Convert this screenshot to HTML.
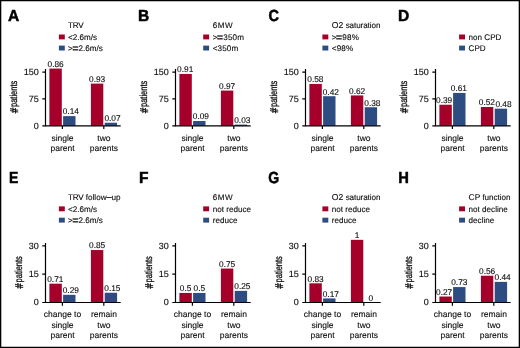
<!DOCTYPE html>
<html lang="en">
<head>
<meta charset="utf-8">
<title>Figure</title>
<style>
html,body{margin:0;padding:0;background:#fff;}
body{width:520px;height:348px;overflow:hidden;position:relative;}
svg{display:block;position:absolute;left:0;top:0;}
text{font-family:"Liberation Sans",Arial,Helvetica,sans-serif;fill:#0d0d0d;stroke:#0d0d0d;stroke-width:0.12px;text-rendering:geometricPrecision;}
.pl{font-size:16.0px;font-weight:bold;fill:#000;stroke:#000;stroke-width:0.5px;}
.lg{font-size:8.1px;}
.vl{font-size:8.3px;text-anchor:middle;}
.tk{font-size:9.0px;text-anchor:end;}
.xl{font-size:8.5px;text-anchor:middle;}
.yl{font-size:10.2px;text-anchor:start;stroke-width:0.3px;}
.hs{font-family:"DejaVu Sans","Liberation Sans",sans-serif;font-size:10.8px;stroke-width:0.35px;}
.ax{fill:none;stroke:#000;stroke-width:1.2;}
</style>
</head>
<body>
<svg width="520" height="348" viewBox="0 0 520 348">
<rect x="0" y="0" width="520" height="348" fill="#fff"/>
<path d="M0 0H520V348H0Z" fill="none" stroke="#000" stroke-width="2.6"/>
<g transform="translate(0 0)">
<text class="pl" transform="translate(8.1 20.5) scale(0.97 1)">A</text>
<text class="lg" x="68.1" y="28"><tspan letter-spacing="-0.2">TRV</tspan></text>
<rect x="58.9" y="34.5" width="5.9" height="4.9" fill="#A50029"/>
<text class="lg" x="68.1" y="39.7">&lt;2.6m/s</text>
<rect x="58.9" y="45.6" width="5.9" height="4.9" fill="#2C4C82"/>
<text class="lg" x="68.1" y="50.8">&gt;<tspan font-size="11" dx="-0.7" dy="1.05">=</tspan><tspan dx="0.05" dy="-1.05">2.6m/s</tspan></text>
<rect x="49.4" y="68.58" width="12.4" height="57.22" fill="#A50029"/>
<text class="vl" x="55.6" y="66.88">0.86</text>
<rect x="63.1" y="116.12" width="12.4" height="9.68" fill="#2C4C82"/>
<text class="vl" x="70.8" y="114.42">0.14</text>
<rect x="90.9" y="83.61" width="12.4" height="42.19" fill="#A50029"/>
<text class="vl" x="97.1" y="81.91">0.93</text>
<rect x="104.7" y="122.71" width="12.4" height="3.09" fill="#2C4C82"/>
<text class="vl" x="112.5" y="121.01">0.07</text>
<path class="ax" d="M45.5 69.1V125.8H120.7"/>
<text class="tk" x="38.7" y="128.5">0</text>
<text class="tk" x="38.7" y="101.65">75</text>
<text class="tk" x="38.7" y="74.8">150</text>
<path class="ax" d="M42.3 125.8H45.5M42.3 98.95H45.5M42.3 72.1H45.5M62.4 125.8V129M103.8 125.8V129"/>
<text class="yl" transform="translate(17 113.8) rotate(-90) scale(0.738 1)"><tspan class="hs" dy="1">#</tspan><tspan dx="0.1" dy="-1">patients</tspan></text>
<text class="xl" x="62.5" y="140.6">single</text>
<text class="xl" x="62.5" y="150.9">parent</text>
<text class="xl" x="103.9" y="140.6">two</text>
<text class="xl" x="103.9" y="150.9">parents</text>
</g>
<g transform="translate(130 0)">
<text class="pl" transform="translate(8.1 20.5) scale(0.97 1)">B</text>
<text class="lg" x="82.7" y="28"><tspan letter-spacing="0.55">6MW</tspan></text>
<rect x="73.2" y="34.5" width="5.9" height="4.9" fill="#A50029"/>
<text class="lg" x="82.7" y="39.7">&gt;<tspan font-size="11" dx="-0.7" dy="1.05">=</tspan><tspan dx="0.05" dy="-1.05" letter-spacing="0.18">350m</tspan></text>
<rect x="73.2" y="45.6" width="5.9" height="4.9" fill="#2C4C82"/>
<text class="lg" x="82.7" y="50.8"><tspan letter-spacing="0.15">&lt;350m</tspan></text>
<rect x="49.4" y="73.95" width="12.4" height="51.85" fill="#A50029"/>
<text class="vl" x="55.2" y="72.35">0.91</text>
<rect x="63.1" y="121.02" width="12.4" height="4.78" fill="#2C4C82"/>
<text class="vl" x="70.9" y="119.32">0.09</text>
<rect x="90.9" y="90.59" width="12.4" height="35.2" fill="#A50029"/>
<text class="vl" x="97.1" y="88.89">0.97</text>
<rect x="104.7" y="124.61" width="12.4" height="1.2" fill="#2C4C82"/>
<text class="vl" x="112.3" y="122.91">0.03</text>
<path class="ax" d="M45.5 69.1V125.8H120.7"/>
<text class="tk" x="38.7" y="128.5">0</text>
<text class="tk" x="38.7" y="101.65">75</text>
<text class="tk" x="38.7" y="74.8">150</text>
<path class="ax" d="M42.3 125.8H45.5M42.3 98.95H45.5M42.3 72.1H45.5M62.4 125.8V129M103.8 125.8V129"/>
<text class="yl" transform="translate(17 113.8) rotate(-90) scale(0.738 1)"><tspan class="hs" dy="1">#</tspan><tspan dx="0.1" dy="-1">patients</tspan></text>
<text class="xl" x="62.5" y="140.6">single</text>
<text class="xl" x="62.5" y="150.9">parent</text>
<text class="xl" x="103.9" y="140.6">two</text>
<text class="xl" x="103.9" y="150.9">parents</text>
</g>
<g transform="translate(260 0)">
<text class="pl" transform="translate(8.4 20.5) scale(0.905 1)">C</text>
<text class="lg" x="71.8" y="28"><tspan font-size="8.6">O2 </tspan><tspan letter-spacing="-0.09">saturation</tspan></text>
<rect x="62.4" y="34.5" width="5.9" height="4.9" fill="#A50029"/>
<text class="lg" x="71.8" y="39.7">&gt;<tspan font-size="11" dx="-0.7" dy="1.05">=</tspan><tspan dx="0.05" dy="-1.05" letter-spacing="0.18">98%</tspan></text>
<rect x="62.4" y="45.6" width="5.9" height="4.9" fill="#2C4C82"/>
<text class="lg" x="71.8" y="50.8"><tspan letter-spacing="0.15">&lt;98%</tspan></text>
<rect x="49.4" y="83.97" width="12.4" height="41.83" fill="#A50029"/>
<text class="vl" x="55.4" y="82.37">0.58</text>
<rect x="63.1" y="96.22" width="12.4" height="29.58" fill="#2C4C82"/>
<text class="vl" x="70.8" y="94.52">0.42</text>
<rect x="90.9" y="95.43" width="12.4" height="30.37" fill="#A50029"/>
<text class="vl" x="97.1" y="93.73">0.62</text>
<rect x="104.7" y="107.24" width="12.4" height="18.56" fill="#2C4C82"/>
<text class="vl" x="112.4" y="105.54">0.38</text>
<path class="ax" d="M45.5 69.1V125.8H120.7"/>
<text class="tk" x="38.7" y="128.5">0</text>
<text class="tk" x="38.7" y="101.65">75</text>
<text class="tk" x="38.7" y="74.8">150</text>
<path class="ax" d="M42.3 125.8H45.5M42.3 98.95H45.5M42.3 72.1H45.5M62.4 125.8V129M103.8 125.8V129"/>
<text class="yl" transform="translate(17 113.8) rotate(-90) scale(0.738 1)"><tspan class="hs" dy="1">#</tspan><tspan dx="0.1" dy="-1">patients</tspan></text>
<text class="xl" x="62.5" y="140.6">single</text>
<text class="xl" x="62.5" y="150.9">parent</text>
<text class="xl" x="103.9" y="140.6">two</text>
<text class="xl" x="103.9" y="150.9">parents</text>
</g>
<g transform="translate(390 0)">
<text class="pl" transform="translate(8.1 20.5) scale(0.97 1)">D</text>
<rect x="69.1" y="34.5" width="5.9" height="4.9" fill="#A50029"/>
<text class="lg" x="78.6" y="39.7">non CPD</text>
<rect x="69.1" y="45.6" width="5.9" height="4.9" fill="#2C4C82"/>
<text class="lg" x="78.6" y="50.8">CPD</text>
<rect x="49.4" y="104.74" width="12.4" height="21.06" fill="#A50029"/>
<text class="vl" x="54.1" y="103.04">0.39</text>
<rect x="63.1" y="92.92" width="12.4" height="32.88" fill="#2C4C82"/>
<text class="vl" x="68.9" y="91.22">0.61</text>
<rect x="90.9" y="106.99" width="12.4" height="18.81" fill="#A50029"/>
<text class="vl" x="96.9" y="105.29">0.52</text>
<rect x="104.7" y="108.67" width="12.4" height="17.13" fill="#2C4C82"/>
<text class="vl" x="113.5" y="106.97">0.48</text>
<path class="ax" d="M45.5 69.1V125.8H120.7"/>
<text class="tk" x="38.7" y="128.5">0</text>
<text class="tk" x="38.7" y="101.65">75</text>
<text class="tk" x="38.7" y="74.8">150</text>
<path class="ax" d="M42.3 125.8H45.5M42.3 98.95H45.5M42.3 72.1H45.5M62.4 125.8V129M103.8 125.8V129"/>
<text class="yl" transform="translate(17 113.8) rotate(-90) scale(0.738 1)"><tspan class="hs" dy="1">#</tspan><tspan dx="0.1" dy="-1">patients</tspan></text>
<text class="xl" x="62.5" y="140.6">single</text>
<text class="xl" x="62.5" y="150.9">parent</text>
<text class="xl" x="103.9" y="140.6">two</text>
<text class="xl" x="103.9" y="150.9">parents</text>
</g>
<g transform="translate(0 0)">
<text class="pl" transform="translate(9 182.5) scale(0.875 1)">E</text>
<text class="lg" x="68.1" y="200"><tspan letter-spacing="-0.2">TRV</tspan> follow<tspan font-size="10.5" dx="-0.55" dy="0.85">−</tspan><tspan dx="-0.55" dy="-0.85">up</tspan></text>
<rect x="58.9" y="206.4" width="5.9" height="4.9" fill="#A50029"/>
<text class="lg" x="68.1" y="211.6">&lt;2.6m/s</text>
<rect x="58.9" y="217.7" width="5.9" height="4.9" fill="#2C4C82"/>
<text class="lg" x="68.1" y="222.9">&gt;<tspan font-size="11" dx="-0.7" dy="1.05">=</tspan><tspan dx="0.05" dy="-1.05">2.6m/s</tspan></text>
<rect x="49.4" y="283.68" width="12.4" height="18.82" fill="#A50029"/>
<text class="vl" x="55.3" y="281.98">0.71</text>
<rect x="63.1" y="294.83" width="12.4" height="7.67" fill="#2C4C82"/>
<text class="vl" x="70.8" y="293.13">0.29</text>
<rect x="90.9" y="250.04" width="12.4" height="52.46" fill="#A50029"/>
<text class="vl" x="97.1" y="248.34">0.85</text>
<rect x="104.7" y="292.75" width="12.4" height="9.75" fill="#2C4C82"/>
<text class="vl" x="112.4" y="291.05">0.15</text>
<path class="ax" d="M45.5 243V302.5H120.7"/>
<text class="tk" x="38.7" y="305.2">0</text>
<text class="tk" x="38.7" y="276.85">15</text>
<text class="tk" x="38.7" y="248.5">30</text>
<path class="ax" d="M42.3 302.5H45.5M42.3 274.15H45.5M42.3 245.8H45.5M62.4 302.5V305.7M103.8 302.5V305.7"/>
<text class="yl" transform="translate(21.9 289.2) rotate(-90) scale(0.738 1)"><tspan class="hs" dy="1">#</tspan><tspan dx="0.1" dy="-1">patients</tspan></text>
<text class="xl" x="62.5" y="316.9">change to</text>
<text class="xl" x="62.5" y="327.5">single</text>
<text class="xl" x="62.5" y="338.1">parent</text>
<text class="xl" x="103.9" y="316.9">remain</text>
<text class="xl" x="103.9" y="327.5">two</text>
<text class="xl" x="103.9" y="338.1">parents</text>
</g>
<g transform="translate(130 0)">
<text class="pl" transform="translate(9.05 182.5) scale(0.97 1)">F</text>
<text class="lg" x="82.7" y="200"><tspan letter-spacing="0.55">6MW</tspan></text>
<rect x="73.2" y="206.4" width="5.9" height="4.9" fill="#A50029"/>
<text class="lg" x="82.7" y="211.6">not reduce</text>
<rect x="73.2" y="217.7" width="5.9" height="4.9" fill="#2C4C82"/>
<text class="lg" x="82.7" y="222.9">reduce</text>
<rect x="49.4" y="292.94" width="12.4" height="9.56" fill="#A50029"/>
<text class="vl" x="55.6" y="291.24">0.5</text>
<rect x="63.1" y="292.94" width="12.4" height="9.56" fill="#2C4C82"/>
<text class="vl" x="69.3" y="291.24">0.5</text>
<rect x="90.9" y="268.56" width="12.4" height="33.94" fill="#A50029"/>
<text class="vl" x="97.1" y="266.86">0.75</text>
<rect x="104.7" y="290.86" width="12.4" height="11.64" fill="#2C4C82"/>
<text class="vl" x="112.4" y="289.16">0.25</text>
<path class="ax" d="M45.5 243V302.5H120.7"/>
<text class="tk" x="38.7" y="305.2">0</text>
<text class="tk" x="38.7" y="276.85">15</text>
<text class="tk" x="38.7" y="248.5">30</text>
<path class="ax" d="M42.3 302.5H45.5M42.3 274.15H45.5M42.3 245.8H45.5M62.4 302.5V305.7M103.8 302.5V305.7"/>
<text class="yl" transform="translate(21.9 289.2) rotate(-90) scale(0.738 1)"><tspan class="hs" dy="1">#</tspan><tspan dx="0.1" dy="-1">patients</tspan></text>
<text class="xl" x="62.5" y="316.9">change to</text>
<text class="xl" x="62.5" y="327.5">single</text>
<text class="xl" x="62.5" y="338.1">parent</text>
<text class="xl" x="103.9" y="316.9">remain</text>
<text class="xl" x="103.9" y="327.5">two</text>
<text class="xl" x="103.9" y="338.1">parents</text>
</g>
<g transform="translate(260 0)">
<text class="pl" transform="translate(8.2 182.5) scale(0.875 1)">G</text>
<text class="lg" x="71.8" y="200"><tspan font-size="8.6">O2 </tspan><tspan letter-spacing="-0.09">saturation</tspan></text>
<rect x="62.4" y="206.4" width="5.9" height="4.9" fill="#A50029"/>
<text class="lg" x="71.8" y="211.6">not reduce</text>
<rect x="62.4" y="217.7" width="5.9" height="4.9" fill="#2C4C82"/>
<text class="lg" x="71.8" y="222.9">reduce</text>
<rect x="49.4" y="283.3" width="12.4" height="19.2" fill="#A50029"/>
<text class="vl" x="55.6" y="281.6">0.83</text>
<rect x="63.1" y="298.42" width="12.4" height="4.08" fill="#2C4C82"/>
<text class="vl" x="70.8" y="296.72">0.17</text>
<rect x="90.9" y="239.83" width="12.4" height="62.67" fill="#A50029"/>
<text class="vl" x="97.1" y="238.13">1</text>
<rect x="104.7" y="302.2" width="12.4" height="0.3" fill="#2C4C82"/>
<text class="vl" x="110.9" y="300.5">0</text>
<path class="ax" d="M45.5 243V302.5H120.7"/>
<text class="tk" x="38.7" y="305.2">0</text>
<text class="tk" x="38.7" y="276.85">15</text>
<text class="tk" x="38.7" y="248.5">30</text>
<path class="ax" d="M42.3 302.5H45.5M42.3 274.15H45.5M42.3 245.8H45.5M62.4 302.5V305.7M103.8 302.5V305.7"/>
<text class="yl" transform="translate(21.9 289.2) rotate(-90) scale(0.738 1)"><tspan class="hs" dy="1">#</tspan><tspan dx="0.1" dy="-1">patients</tspan></text>
<text class="xl" x="62.5" y="316.9">change to</text>
<text class="xl" x="62.5" y="327.5">single</text>
<text class="xl" x="62.5" y="338.1">parent</text>
<text class="xl" x="103.9" y="316.9">remain</text>
<text class="xl" x="103.9" y="327.5">two</text>
<text class="xl" x="103.9" y="338.1">parents</text>
</g>
<g transform="translate(390 0)">
<text class="pl" transform="translate(8.2 182.5) scale(0.92 1)">H</text>
<text class="lg" x="78.6" y="200"><tspan font-size="8.4">CP </tspan><tspan letter-spacing="-0.03">function</tspan></text>
<rect x="69.1" y="206.4" width="5.9" height="4.9" fill="#A50029"/>
<text class="lg" x="78.6" y="211.6">not decline</text>
<rect x="69.1" y="217.7" width="5.9" height="4.9" fill="#2C4C82"/>
<text class="lg" x="78.6" y="222.9">decline</text>
<rect x="49.4" y="296.53" width="12.4" height="5.97" fill="#A50029"/>
<text class="vl" x="54.1" y="294.83">0.27</text>
<rect x="63.1" y="287.08" width="12.4" height="15.42" fill="#2C4C82"/>
<text class="vl" x="69.3" y="285.38">0.73</text>
<rect x="90.9" y="275.74" width="12.4" height="26.76" fill="#A50029"/>
<text class="vl" x="97.1" y="274.04">0.56</text>
<rect x="104.7" y="281.88" width="12.4" height="20.62" fill="#2C4C82"/>
<text class="vl" x="112.6" y="280.18">0.44</text>
<path class="ax" d="M45.5 243V302.5H120.7"/>
<text class="tk" x="38.7" y="305.2">0</text>
<text class="tk" x="38.7" y="276.85">15</text>
<text class="tk" x="38.7" y="248.5">30</text>
<path class="ax" d="M42.3 302.5H45.5M42.3 274.15H45.5M42.3 245.8H45.5M62.4 302.5V305.7M103.8 302.5V305.7"/>
<text class="yl" transform="translate(21.9 289.2) rotate(-90) scale(0.738 1)"><tspan class="hs" dy="1">#</tspan><tspan dx="0.1" dy="-1">patients</tspan></text>
<text class="xl" x="62.5" y="316.9">change to</text>
<text class="xl" x="62.5" y="327.5">single</text>
<text class="xl" x="62.5" y="338.1">parent</text>
<text class="xl" x="103.9" y="316.9">remain</text>
<text class="xl" x="103.9" y="327.5">two</text>
<text class="xl" x="103.9" y="338.1">parents</text>
</g>
</svg>
</body>
</html>
